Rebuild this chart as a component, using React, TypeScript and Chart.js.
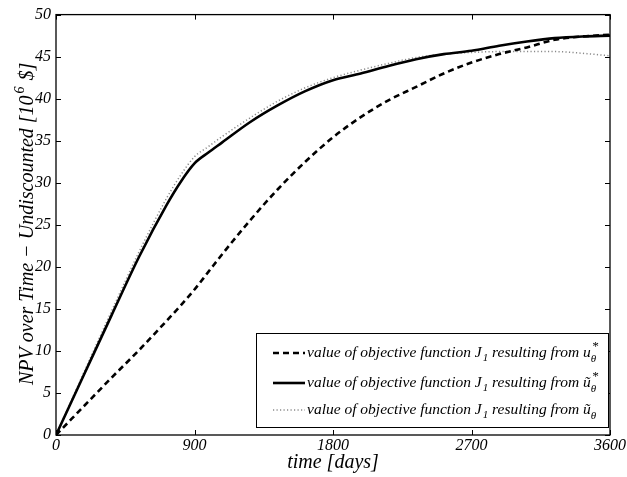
import React, { useEffect, useRef } from 'react';
import { Chart, registerables } from 'chart.js';

Chart.register(...registerables);

// ---- data ----
const timeDays = [0, 180, 360, 540, 720, 810, 900, 990, 1080, 1260, 1440, 1620, 1800, 1980, 2160, 2340, 2520, 2700, 2880, 3060, 3240, 3420, 3600];
// J1 from u*_theta (dashed)
const npvUStar = [0, 3.4, 6.8, 10.1, 13.6, 15.4, 17.3, 19.4, 21.5, 25.5, 29.2, 32.5, 35.4, 37.8, 39.8, 41.4, 43.0, 44.3, 45.3, 46.1, 47.0, 47.4, 47.6];
// J1 from u~*_theta (solid)
const npvUTildeStar = [0, 7.1, 14.2, 21.2, 27.4, 30.1, 32.3, 33.6, 34.8, 37.2, 39.2, 40.9, 42.2, 43.0, 43.9, 44.7, 45.3, 45.7, 46.3, 46.8, 47.2, 47.4, 47.5];
// J1 from u~_theta (dotted)
const npvUTilde = [0, 7.4, 14.7, 21.8, 28.2, 30.9, 33.1, 34.3, 35.5, 37.7, 39.7, 41.3, 42.5, 43.4, 44.2, 44.9, 45.3, 45.5, 45.6, 45.6, 45.6, 45.4, 45.1];

const xTicks = [0, 900, 1800, 2700, 3600];
const yTicks = [0, 5, 10, 15, 20, 25, 30, 35, 40, 45, 50];

const xTitle = 'time [days]';
const yTitleMain = 'NPV over Time \u2212 Undiscounted [10';
const yTitleSup = '6';
const yTitleEnd = ' $]';

const legendBase = 'value of objective function J';
const legendSub = '1';
const legendMid = ' resulting from ';
const legendU = ['u', '\u0169', '\u0169'];
const legendSupStar = ['*', '*', ''];

const FONT = '"Liberation Serif", "DejaVu Serif", serif';

const decorPlugin = {
  id: 'decor',
  afterDraw(chart: any) {
    const ctx: CanvasRenderingContext2D = chart.ctx;
    const { left, right, top, bottom } = chart.chartArea;
    const xs = chart.scales.x;
    const ys = chart.scales.y;
    ctx.save();
    // inward ticks
    ctx.strokeStyle = '#000';
    ctx.lineWidth = 1;
    const tl = 5;
    ctx.beginPath();
    xTicks.forEach((v) => {
      const px = Math.round(xs.getPixelForValue(v)) + 0.5;
      ctx.moveTo(px, bottom); ctx.lineTo(px, bottom - tl);
      ctx.moveTo(px, top); ctx.lineTo(px, top + tl);
    });
    yTicks.forEach((v) => {
      const py = Math.round(ys.getPixelForValue(v)) + 0.5;
      ctx.moveTo(left, py); ctx.lineTo(left + tl, py);
      ctx.moveTo(right, py); ctx.lineTo(right - tl, py);
    });
    ctx.stroke();
    // box
    ctx.lineWidth = 1.3;
    ctx.strokeRect(left, top, right - left, bottom - top);

    // axis titles
    ctx.fillStyle = '#000';
    ctx.font = `italic 20px ${FONT}`;
    ctx.textAlign = 'center';
    ctx.textBaseline = 'middle';
    ctx.fillText(xTitle, (left + right) / 2, 463);

    // y title rotated with superscript
    ctx.save();
    ctx.translate(33, (top + bottom) / 2 - 1);
    ctx.rotate(-Math.PI / 2);
    ctx.textAlign = 'left';
    ctx.textBaseline = 'alphabetic';
    const bigF = `italic 20px ${FONT}`;
    const supF = `italic 14px ${FONT}`;
    ctx.font = bigF;
    const w1 = ctx.measureText(yTitleMain).width;
    const w3 = ctx.measureText(yTitleEnd).width;
    ctx.font = supF;
    const w2 = ctx.measureText(yTitleSup).width + 3;
    const total = w1 + w2 + w3;
    let cx = -total / 2;
    ctx.font = bigF;
    ctx.fillText(yTitleMain, cx, 0);
    cx += w1 + 2;
    ctx.font = supF;
    ctx.fillText(yTitleSup, cx, -9);
    cx += w2 - 2;
    ctx.font = bigF;
    ctx.fillText(yTitleEnd, cx, 0);
    ctx.restore();

    // legend box
    const bx = 256, by = 333, bw = right - 2 - bx, bh = 94;
    ctx.fillStyle = '#fff';
    ctx.fillRect(bx, by, bw, bh);
    ctx.strokeStyle = '#000';
    ctx.lineWidth = 1;
    ctx.strokeRect(bx + 0.5, by + 0.5, bw, bh);
    const rowsY = [353, 383, 410];
    const textF = `italic 15.5px ${FONT}`;
    const smallF = `italic 11px ${FONT}`;
    const starF = `italic 13px ${FONT}`;
    chart.data.datasets.forEach((ds: any, i: number) => {
      const y = rowsY[i];
      ctx.save();
      ctx.strokeStyle = ds.borderColor;
      ctx.lineWidth = ds.borderWidth;
      ctx.setLineDash(ds.borderDash || []);
      ctx.beginPath();
      ctx.moveTo(273, y);
      ctx.lineTo(305, y);
      ctx.stroke();
      ctx.restore();
      ctx.fillStyle = '#000';
      ctx.textAlign = 'left';
      ctx.textBaseline = 'alphabetic';
      const base = y + 4;
      let x = 307;
      ctx.font = textF;
      ctx.fillText(legendBase, x, base);
      x += ctx.measureText(legendBase).width + 1;
      ctx.font = smallF;
      ctx.fillText(legendSub, x, base + 4);
      x += ctx.measureText(legendSub).width;
      ctx.font = textF;
      ctx.fillText(legendMid, x, base);
      x += ctx.measureText(legendMid).width;
      ctx.fillText(legendU[i], x, base);
      x += ctx.measureText(legendU[i]).width;
      if (legendSupStar[i]) {
        ctx.font = starF;
        ctx.fillText(legendSupStar[i], x + 1, base - 7);
      }
      ctx.font = smallF;
      ctx.fillText('\u03b8', x, base + 5);
    });
    ctx.restore();
  },
};

export default function App() {
  const ref = useRef<HTMLCanvasElement | null>(null);
  useEffect(() => {
    if (!ref.current) return;
    const chart = new Chart(ref.current, {
      type: 'line',
      data: {
        datasets: [
          {
            label: 'value of objective function J1 resulting from u*θ',
            data: timeDays.map((t, i) => ({ x: t, y: npvUStar[i] })),
            borderColor: '#000',
            borderWidth: 2.6,
            borderDash: [6, 4],
            pointRadius: 0,
            cubicInterpolationMode: 'monotone',
            fill: false,
          },
          {
            label: 'value of objective function J1 resulting from ũ*θ',
            data: timeDays.map((t, i) => ({ x: t, y: npvUTildeStar[i] })),
            borderColor: '#000',
            borderWidth: 2.6,
            pointRadius: 0,
            cubicInterpolationMode: 'monotone',
            fill: false,
          },
          {
            label: 'value of objective function J1 resulting from ũθ',
            data: timeDays.map((t, i) => ({ x: t, y: npvUTilde[i] })),
            borderColor: '#8a8a8a',
            borderWidth: 1.5,
            borderDash: [1.2, 2.3],
            pointRadius: 0,
            cubicInterpolationMode: 'monotone',
            fill: false,
          },
        ],
      },
      options: {
        animation: false,
        responsive: false,
        devicePixelRatio: 1,
        layout: { padding: { left: 0, right: 15, top: 12, bottom: 0 } },
        plugins: { legend: { display: false }, tooltip: { enabled: false } },
        scales: {
          x: {
            type: 'linear',
            min: 0,
            max: 3600,
            afterBuildTicks: (s: any) => { s.ticks = xTicks.map((v) => ({ value: v })); },
            grid: { display: false, drawTicks: false, tickLength: 0 },
            border: { display: false },
            ticks: { color: '#000', font: { family: FONT, size: 16, style: 'italic' }, padding: 1, maxRotation: 0, callback: (v: any) => String(v) },
            afterFit: (s: any) => { s.height = 42; },
          },
          y: {
            type: 'linear',
            min: 0,
            max: 50,
            afterBuildTicks: (s: any) => { s.ticks = yTicks.map((v) => ({ value: v })); },
            grid: { display: false, drawTicks: false, tickLength: 0 },
            border: { display: false },
            ticks: { color: '#000', font: { family: FONT, size: 16, style: 'italic' }, padding: 5, callback: (v: any) => String(v) },
            afterFit: (s: any) => { s.width = 56; },
          },
        },
      },
      plugins: [decorPlugin],
    });
    return () => chart.destroy();
  }, []);
  return (
    <div style={{ position: 'fixed', left: 0, top: 0, width: 627, height: 477, background: '#fff' }}>
      <canvas ref={ref} width={627} height={477} style={{ width: 627, height: 477 }} />
    </div>
  );
}
